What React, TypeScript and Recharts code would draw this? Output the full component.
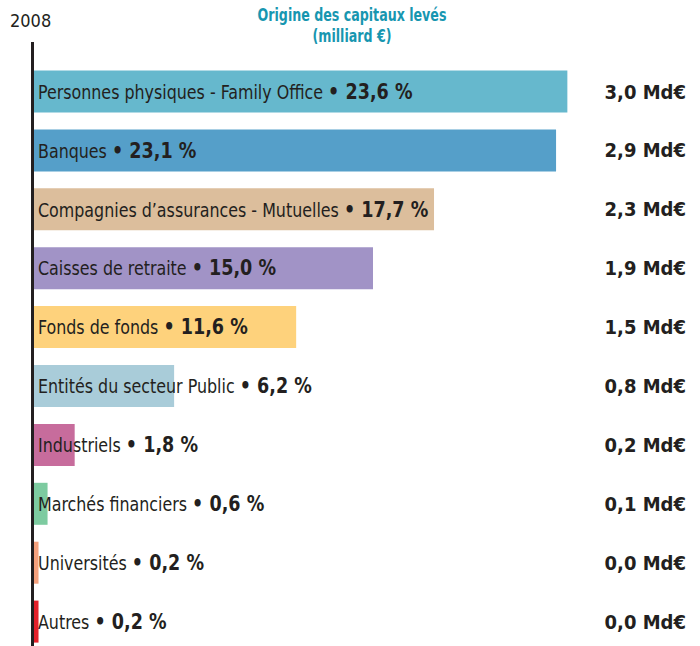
import { BarChart, Bar, XAxis, YAxis, Cell, LabelList } from 'recharts';

const categories = [
    'Personnes physiques - Family Office',
    'Banques',
    "Compagnies d’assurances - Mutuelles",
    'Caisses de retraite',
    'Fonds de fonds',
    'Entités du secteur Public',
    'Industriels',
    'Marchés financiers',
    'Universités',
    'Autres',
];
const shares = [23.6, 23.1, 17.7, 15.0, 11.6, 6.2, 1.8, 0.6, 0.2, 0.2];
const amounts = [3.0, 2.9, 2.3, 1.9, 1.5, 0.8, 0.2, 0.1, 0.0, 0.0];
const colors = ['#66b8cd', '#559fc9', '#dcbe9c', '#a193c6', '#fed27c', '#a9ccd9', '#c76c9c', '#7dcba0', '#f4a07c', '#e4202a'];

const data = categories.map((name, i) => ({ name, share: shares[i], amount: amounts[i] }));

const FONT = '"Liberation Sans Narrow", "DejaVu Sans Condensed", "Roboto", sans-serif';
const INK = '#231f20';
const fmt = (v: number) => v.toFixed(1).replace('.', ',');

// condensed look: squeeze the text horizontally a bit
const NameLabel = (props: any) => {
    const { x, y, height, index } = props;
    const d = data[index];
    return (
        <text transform={`translate(${x + 4} ${y + height / 2}) scale(0.93 1)`} dominantBaseline="central" fontFamily={FONT} fill={INK}>
            <tspan fontSize={19}>{d.name} </tspan>
            <tspan fontSize={21} fontWeight={700}>• {fmt(d.share)} %</tspan>
        </text>
    );
};

const AmountLabel = (props: any) => {
    const { y, height, index } = props;
    return (
        <text x={686} y={y + height / 2} dominantBaseline="central" textAnchor="end"
            fontFamily={FONT} fontSize={20} fontWeight={700} fill={INK}>
            {fmt(data[index].amount)} Md€
        </text>
    );
};

export default function App() {
    return (
        <div style={{ position: 'absolute', left: 0, top: 0, width: 700, height: 660, background: '#fff', fontFamily: FONT }}>
            <div style={{ position: 'absolute', left: 10, top: 10, fontSize: 18, color: INK }}>2008</div>
            <div style={{ position: 'absolute', left: 202, width: 300, top: 4, textAlign: 'center', fontSize: 18, fontWeight: 700, color: '#1796b0', lineHeight: '21px', transform: 'scaleX(0.78)' }}>
                Origine des capitaux levés<br />(milliard €)
            </div>
            <div style={{ position: 'absolute', left: 31, top: 42, width: 3, height: 620, background: INK }} />
            <div style={{ position: 'absolute', left: 0, top: 0 }}>
                <BarChart
                    width={700}
                    height={660}
                    data={data}
                    layout="vertical"
                    margin={{ top: 62.5, right: 101, bottom: 8.5, left: 34 }}
                    barSize={42}
                >
                    <XAxis type="number" domain={[0, 25]} hide />
                    <YAxis type="category" dataKey="name" hide width={0} />
                    <Bar dataKey="share" isAnimationActive={false}>
                        {data.map((d, i) => (
                            <Cell key={d.name} fill={colors[i]} />
                        ))}
                        <LabelList dataKey="share" content={<NameLabel />} />
                        <LabelList dataKey="amount" content={<AmountLabel />} />
                    </Bar>
                </BarChart>
            </div>
        </div>
    );
}
